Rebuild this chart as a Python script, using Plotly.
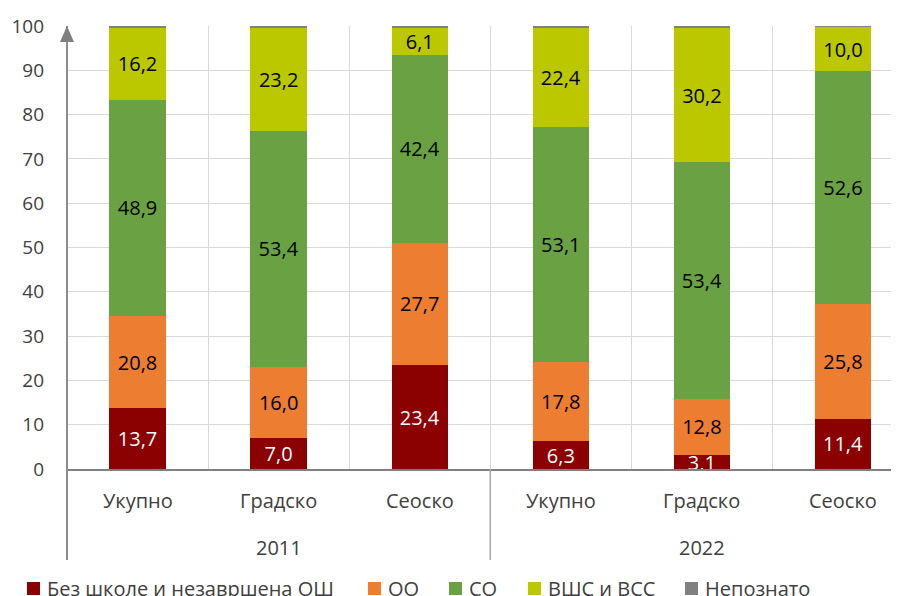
import plotly.graph_objects as go

categories = ["Укупно", "Градско", "Сеоско", "Укупно", "Градско", "Сеоско"]
years = ["2011", "2022"]
group_size = 3

series_names = ["Без школе и незавршена ОШ", "ОО", "СО", "ВШС и ВСС", "Непознато"]
bez_skole = [13.7, 7.0, 23.4, 6.3, 3.1, 11.4]
oo = [20.8, 16.0, 27.7, 17.8, 12.8, 25.8]
so = [48.9, 53.4, 42.4, 53.1, 53.4, 52.6]
vss = [16.2, 23.2, 6.1, 22.4, 30.2, 10.0]
nepoznato = [0.4, 0.4, 0.4, 0.4, 0.5, 0.2]

y_ticks = [0, 10, 20, 30, 40, 50, 60, 70, 80, 90, 100]

colors = ["#8B0000", "#ED7D31", "#6AA143", "#BBC800", "#808080"]
text_colors = ["#FFFFFF", "#000000", "#000000", "#000000", "#000000"]
show_labels = [True, True, True, True, False]
all_series = [bez_skole, oo, so, vss, nepoznato]

FONT = "Open Sans"
FS = 20
TICK_FS = 19

# figure geometry (page has an 8px body margin)
W, H = 891, 588
L, R, T, B = 59, 890, 18, 461
plot_w, plot_h = R - L, B - T


def px(X):
    return (X - L) / plot_w


def py(Y):
    return (B - Y) / plot_h


x_idx = list(range(len(categories)))

fig = go.Figure()
for name, vals, col, tcol, lab in zip(series_names, all_series, colors, text_colors, show_labels):
    fig.add_trace(go.Bar(
        x=x_idx, y=vals, name=name,
        marker=dict(color=col, line=dict(width=0)),
        width=0.4,
        text=[f"{v:.1f}".replace(".", ",") for v in vals] if lab else None,
        textposition="inside" if lab else "none",
        insidetextanchor="middle",
        textfont=dict(family=FONT, size=FS, color=tcol),
        cliponaxis=False,
        hoverinfo="skip",
        showlegend=False,
    ))

below = py(552)

shapes = []
shapes.append(dict(type="line", xref="paper", yref="paper", x0=0, x1=0, y0=below, y1=1,
                   line=dict(color="#8c8c8c", width=2), layer="above"))
shapes.append(dict(type="line", xref="x", yref="paper", x0=group_size - 0.5, x1=group_size - 0.5,
                   y0=below, y1=0, line=dict(color="#a6a6a6", width=1.5), layer="above"))
shapes.append(dict(type="path", xref="paper", yref="y", xsizemode="pixel", ysizemode="pixel",
                   xanchor=0, yanchor=100, path="M -7,-16 L 0,0 L 7,-16 Z",
                   fillcolor="#808080", line=dict(width=0), layer="above"))
shapes.append(dict(type="path", xref="paper", yref="y", xsizemode="pixel", ysizemode="pixel",
                   xanchor=1, yanchor=0, path="M -3,-8 L 12,0 L -3,8 Z",
                   fillcolor="#808080", line=dict(width=0), layer="above"))

annotations = []
for i, c in enumerate(categories):
    annotations.append(dict(x=i, y=py(492), xref="x", yref="paper", text=c,
                            showarrow=False, yanchor="middle", xanchor="center",
                            font=dict(family=FONT, size=FS, color="#404040")))
for g, yr in enumerate(years):
    annotations.append(dict(x=g * group_size + (group_size - 1) / 2, y=py(539),
                            xref="x", yref="paper", text=yr, showarrow=False,
                            yanchor="middle", xanchor="center",
                            font=dict(family=FONT, size=FS, color="#404040")))

# manual legend (bottom, partly cut off like the reference)
legend_sq_x = [19, 360, 441, 520, 677]
for name, col, sx in zip(series_names, colors, legend_sq_x):
    shapes.append(dict(type="rect", xref="paper", yref="paper",
                       x0=px(sx), x1=px(sx + 13), y0=py(587), y1=py(574),
                       fillcolor=col, line=dict(width=0), layer="above"))
    annotations.append(dict(x=px(sx + 18), y=py(580), xref="paper", yref="paper", text=name,
                            showarrow=False, xanchor="left", yanchor="middle",
                            font=dict(family=FONT, size=FS, color="#404040")))

fig.update_layout(
    width=W, height=H,
    margin=dict(l=L, r=W - R, t=T, b=H - B),
    barmode="stack",
    plot_bgcolor="white", paper_bgcolor="white",
    font=dict(family=FONT, size=FS, color="#404040"),
    uniformtext=dict(minsize=FS, mode="show"),
    showlegend=False,
    shapes=shapes,
    annotations=annotations,
    xaxis=dict(range=[-0.5, 5.39], tickvals=x_idx, showticklabels=False, showgrid=False,
               zeroline=False, showline=True, linecolor="#808080", linewidth=2,
               minor=dict(tick0=0.5, dtick=1, showgrid=True, gridcolor="#d9d9d9", gridwidth=1)),
    yaxis=dict(range=[0, 100], tickvals=y_ticks, showgrid=True, gridcolor="#d9d9d9", gridwidth=1,
               zeroline=False, showline=False, ticks="", ticklabelstandoff=22,
               tickfont=dict(family=FONT, size=TICK_FS, color="#404040")),
)

fig.write_html("out.html")
